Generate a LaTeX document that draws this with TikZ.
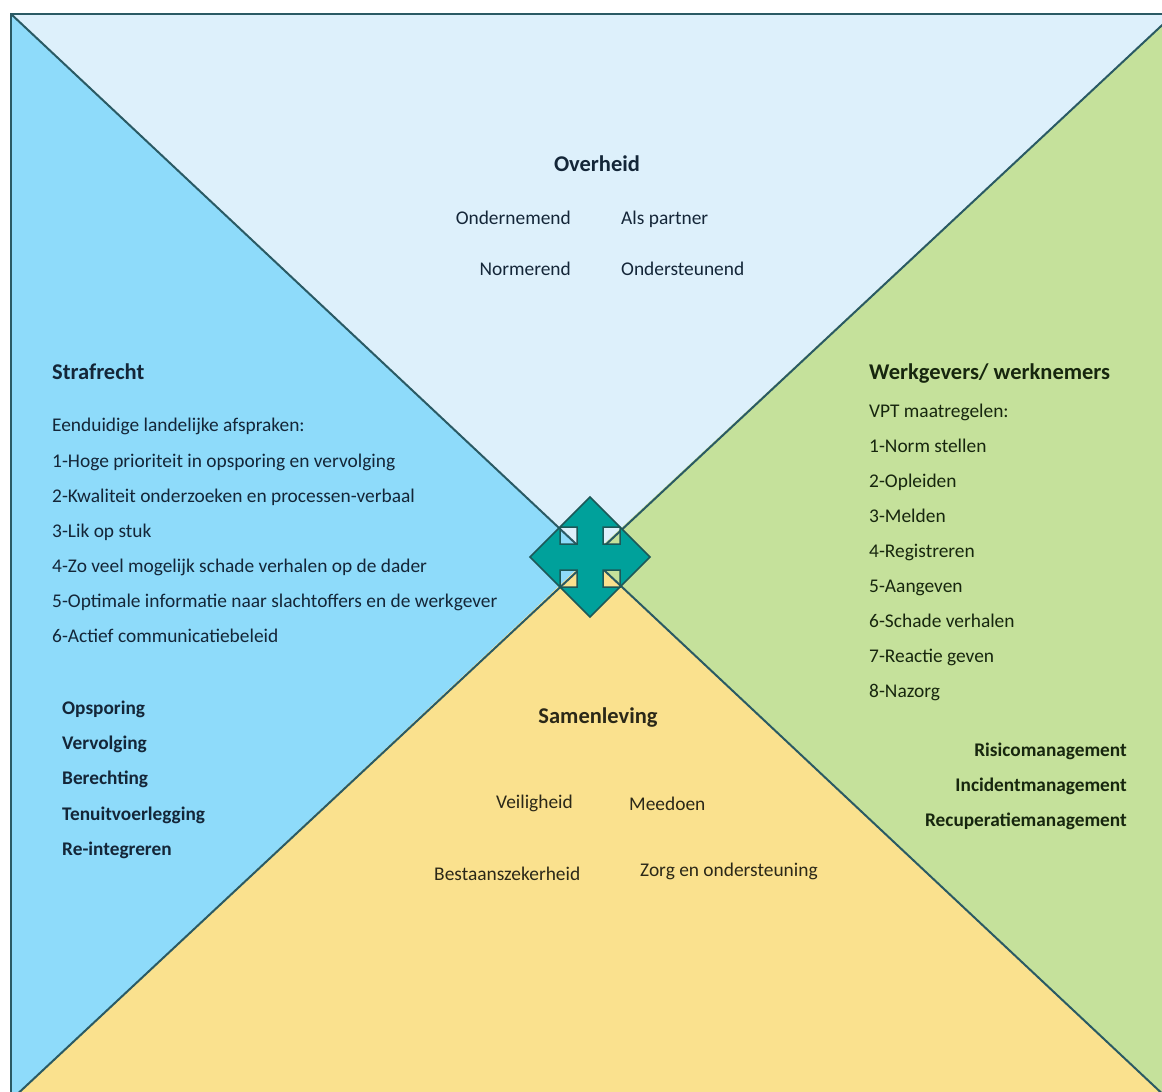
\documentclass[tikz,border=0pt]{standalone}
\usepackage{fontspec}
\setmainfont{Carlito}
\definecolor{topc}{HTML}{DDF0FB}
\definecolor{leftc}{HTML}{8EDBFA}
\definecolor{rightc}{HTML}{C5E19B}
\definecolor{botc}{HTML}{FAE18E}
\definecolor{linec}{HTML}{2A5A64}
\definecolor{arrowc}{HTML}{00A19B}
\definecolor{arrowline}{HTML}{1D5858}
\definecolor{tblue}{HTML}{142638}
\definecolor{tgreen}{HTML}{17260E}
\definecolor{tyel}{HTML}{2B2818}
\begin{document}
\begin{tikzpicture}[x=1pt,y=-1pt,
  body/.style={inner sep=0pt, font=\fontsize{19.4}{22}\selectfont},
  head/.style={inner sep=0pt, font=\fontsize{22.5}{26}\selectfont\bfseries},
  bodyb/.style={inner sep=0pt, font=\fontsize{19.3}{22}\selectfont\bfseries},
  sep/.style={draw=linec, line width=2pt}]
\useasboundingbox (0,0) rectangle (1162,1092);
\fill[white] (0,0) rectangle (1162,1092);
\begin{scope}
\clip (0,0) rectangle (1162,1092);
\coordinate (TL) at (11,14);
\coordinate (TR) at (1174,14);
\coordinate (BR) at (1169,1100);
\coordinate (BL) at (11,1100);
\coordinate (C) at (590,557);
\fill[topc] (TL) -- (TR) -- (C) -- cycle;
\fill[leftc] (TL) -- (BL) -- (C) -- cycle;
\fill[rightc] (TR) -- (BR) -- (C) -- cycle;
\fill[botc] (BL) -- (BR) -- (C) -- cycle;
\draw[sep] (TL) -- (BR);
\draw[sep] (TR) -- (BL);
\draw[sep] (TL) rectangle (BR);
\end{scope}
% four-way arrow
\filldraw[fill=arrowc, draw=arrowline, line width=1.5pt, even odd rule, line join=miter]
  (590,497) -- (650,557) -- (590,617) -- (530,557) -- cycle
  (560,527) rectangle (577,544)
  (603,527) rectangle (620,544)
  (560,570) rectangle (577,587)
  (603,570) rectangle (620,587);
% top
\begin{scope}[every node/.append style={text=tblue}]
\node[head, anchor=mid] (ov) at (597,169) {Overheid};
\node[body, anchor=mid east] (ov1) at (571,222) {Ondernemend};
\node[body, anchor=mid west] (ov2) at (621,222) {Als partner};
\node[body, anchor=mid east] (ov3) at (571,273) {Normerend};
\node[body, anchor=mid west] (ov4) at (621,273) {Ondersteunend};
% left
\node[head, anchor=mid west] (st) at (52,377) {Strafrecht};
\node[body, anchor=mid west] (st0) at (52,429) {Eenduidige landelijke afspraken:};
\node[body, anchor=mid west] (st1) at (52,465) {1-Hoge prioriteit in opsporing en vervolging};
\node[body, anchor=mid west] (st2) at (52,500) {2-Kwaliteit onderzoeken en processen-verbaal};
\node[body, anchor=mid west] (st3) at (52,535) {3-Lik op stuk};
\node[body, anchor=mid west] (st4) at (52,570) {4-Zo veel mogelijk schade verhalen op de dader};
\node[body, anchor=mid west] (st5) at (52,605) {5-Optimale informatie naar slachtoffers en de werkgever};
\node[body, anchor=mid west] (st6) at (52,640) {6-Actief communicatiebeleid};
\node[bodyb, anchor=mid west] (sb1) at (62,712) {Opsporing};
\node[bodyb, anchor=mid west] (sb2) at (62,747) {Vervolging};
\node[bodyb, anchor=mid west] (sb3) at (62,782) {Berechting};
\node[bodyb, anchor=mid west] (sb4) at (62,818) {Tenuitvoerlegging};
\node[bodyb, anchor=mid west] (sb5) at (62,853) {Re-integreren};
\end{scope}
% right
\begin{scope}[every node/.append style={text=tgreen}]
\node[head, anchor=mid west] (wg) at (869,377) {Werkgevers/ werknemers};
\node[body, anchor=mid west] (wg0) at (869,415) {VPT maatregelen:};
\node[body, anchor=mid west] (wg1) at (869,450) {1-Norm stellen};
\node[body, anchor=mid west] (wg2) at (869,485) {2-Opleiden};
\node[body, anchor=mid west] (wg3) at (869,520) {3-Melden};
\node[body, anchor=mid west] (wg4) at (869,555) {4-Registreren};
\node[body, anchor=mid west] (wg5) at (869,590) {5-Aangeven};
\node[body, anchor=mid west] (wg6) at (869,625) {6-Schade verhalen};
\node[body, anchor=mid west] (wg7) at (869,660) {7-Reactie geven};
\node[body, anchor=mid west] (wg8) at (869,695) {8-Nazorg};
\node[bodyb, anchor=mid east] (wb1) at (1127,754) {Risicomanagement};
\node[bodyb, anchor=mid east] (wb2) at (1127,789) {Incidentmanagement};
\node[bodyb, anchor=mid east] (wb3) at (1127,824) {Recuperatiemanagement};
\end{scope}
% bottom
\begin{scope}[every node/.append style={text=tyel}]
\node[head, anchor=mid] (sl) at (598,721) {Samenleving};
\node[body, anchor=mid west] (sl1) at (496,806) {Veiligheid};
\node[body, anchor=mid west] (sl2) at (629,808) {Meedoen};
\node[body, anchor=mid west] (sl3) at (434,878) {Bestaanszekerheid};
\node[body, anchor=mid west] (sl4) at (640,874) {Zorg en ondersteuning};
\end{scope}
\end{tikzpicture}
\end{document}
